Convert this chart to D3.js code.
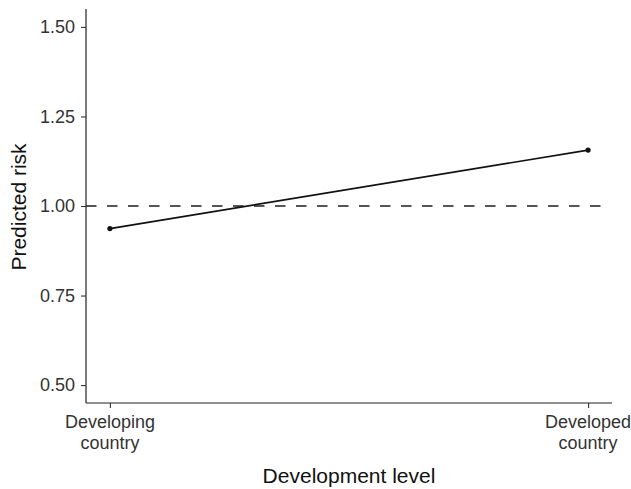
<!DOCTYPE html>
<html>
<head>
<meta charset="utf-8">
<script src="https://cdn.jsdelivr.net/npm/d3@7"></script>
<style>
  html, body { margin: 0; padding: 0; background: #fff; }
  svg { display: block; font-family: "Liberation Sans", Arial, sans-serif; }
</style>
</head>
<body>
<svg id="chart" width="631" height="489"></svg>
<script>
// Predicted risk by development level
const categories = [["Developing", "country"], ["Developed", "country"]];
const xPositions = [0, 1];
const riskValues = [0.937, 1.156];
const yTicks = [0.50, 0.75, 1.00, 1.25, 1.50];
const referenceLine = 1.0;

const svg = d3.select("#chart");
const margin = { top: 9, right: 19, bottom: 86, left: 86 };
const width = 631 - margin.left - margin.right;
const height = 489 - margin.top - margin.bottom;

const x = d3.scaleLinear().domain([-0.05, 1.05]).range([0, width]);
const y = d3.scaleLinear().domain([0.45, 1.55]).range([height, 0]);

const g = svg.append("g").attr("transform", `translate(${margin.left},${margin.top})`);

// Reference line at risk = 1
g.append("line")
  .attr("x1", x(-0.05)).attr("x2", x(1.04))
  .attr("y1", y(referenceLine)).attr("y2", y(referenceLine))
  .attr("stroke", "#555").attr("stroke-width", 1.8)
  .attr("stroke-dasharray", "10.5,10.5");

const pts = xPositions.map((p, i) => ({ x: p, y: riskValues[i] }));

g.append("path")
  .datum(pts)
  .attr("fill", "none")
  .attr("stroke", "#111")
  .attr("stroke-width", 1.7)
  .attr("d", d3.line().x(d => x(d.x)).y(d => y(d.y)));

g.selectAll("circle.pt")
  .data(pts)
  .join("circle")
  .attr("class", "pt")
  .attr("cx", d => x(d.x)).attr("cy", d => y(d.y))
  .attr("r", 2.6).attr("fill", "#111");

// Axes
const yAxis = d3.axisLeft(y).tickValues(yTicks).tickFormat(d3.format(".2f")).tickSize(5).tickPadding(6);
const yG = g.append("g").call(yAxis);
yG.select(".domain").attr("stroke", "#222").attr("stroke-width", 1.2).attr("d", `M0,0V${height}`);
yG.selectAll(".tick line").attr("stroke", "#333").attr("stroke-width", 1.1);
yG.selectAll(".tick text").attr("fill", "#333").style("font-size", "18px")
  .style("font-family", "'Liberation Sans', Arial, sans-serif");

const xAxis = d3.axisBottom(x).tickValues(xPositions).tickFormat("").tickSize(5);
const xG = g.append("g").attr("transform", `translate(0,${height})`).call(xAxis);
xG.select(".domain").attr("stroke", "#222").attr("stroke-width", 1.2).attr("d", `M0,0H${width}`);
xG.selectAll(".tick line").attr("stroke", "#333").attr("stroke-width", 1.1);

// Two-line category labels
xPositions.forEach((p, i) => {
  const t = g.append("text")
    .attr("x", x(p)).attr("y", height + 25)
    .attr("text-anchor", "middle")
    .attr("fill", "#333")
    .style("font-size", "18px");
  categories[i].forEach((line, j) => {
    t.append("tspan").attr("x", x(p)).attr("dy", j === 0 ? 0 : 21).text(line);
  });
});

// Axis titles
svg.append("text")
  .attr("x", margin.left + width / 2).attr("y", 483)
  .attr("text-anchor", "middle").attr("fill", "#111")
  .style("font-size", "21px")
  .text("Development level");

svg.append("text")
  .attr("transform", `translate(26,207) rotate(-90)`)
  .attr("text-anchor", "middle").attr("fill", "#111")
  .style("font-size", "21px")
  .text("Predicted risk");
</script>
</body>
</html>
